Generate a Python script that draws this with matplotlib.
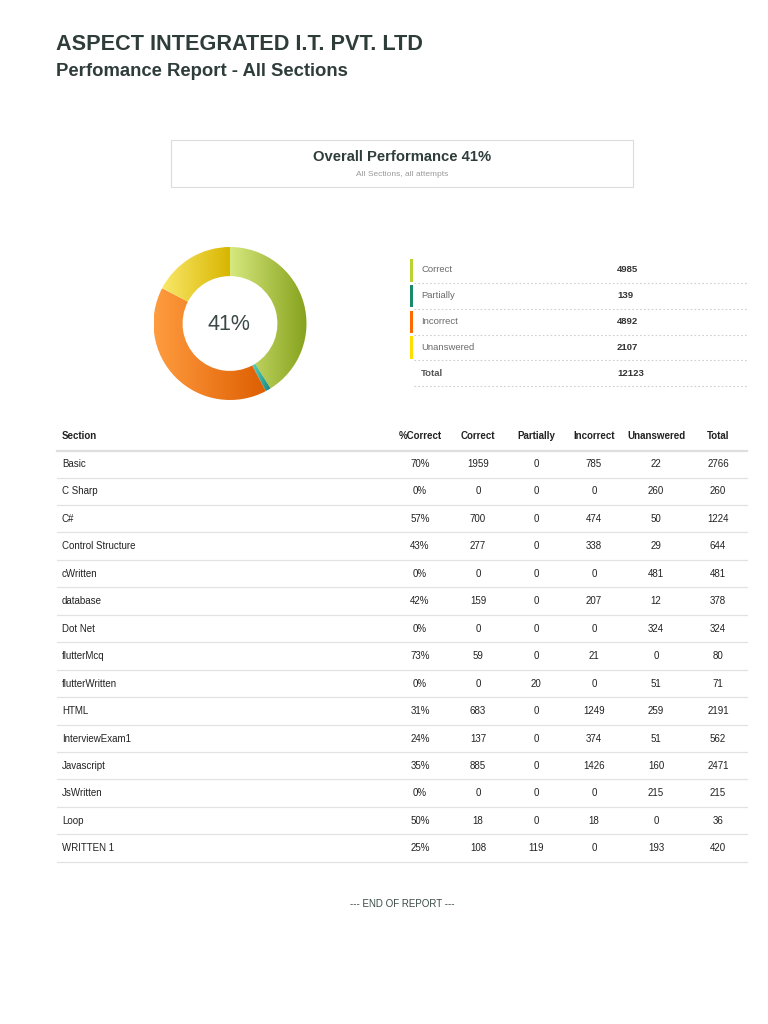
import numpy as np
import matplotlib.pyplot as plt
from matplotlib.colors import LinearSegmentedColormap

plt.rcParams["font.family"] = ["Liberation Sans", "DejaVu Sans"]

# ---- data ----
summary_labels = ["Correct", "Partially", "Incorrect", "Unanswered"]
summary_counts = [4985, 139, 4892, 2107]
summary_total = 12123
overall_pct = 41

sections = ["Basic", "C Sharp", "C#", "Control Structure", "cWritten", "database",
            "Dot Net", "flutterMcq", "flutterWritten", "HTML", "InterviewExam1",
            "Javascript", "JsWritten", "Loop", "WRITTEN 1"]
pct_correct = [70, 0, 57, 43, 0, 42, 0, 73, 0, 31, 24, 35, 0, 50, 25]
correct = [1959, 0, 700, 277, 0, 159, 0, 59, 0, 683, 137, 885, 0, 18, 108]
partially = [0, 0, 0, 0, 0, 0, 0, 0, 20, 0, 0, 0, 0, 0, 119]
incorrect = [785, 0, 474, 338, 0, 207, 0, 21, 0, 1249, 374, 1426, 0, 18, 0]
unanswered = [22, 260, 50, 29, 481, 12, 324, 0, 51, 259, 51, 160, 215, 0, 193]
total = [2766, 260, 1224, 644, 481, 378, 324, 80, 71, 2191, 562, 2471, 215, 36, 420]

# colours
DARK = "#2f3d3a"
bar_colors = ["#b8d432", "#1a8a6a", "#ff6a00", "#ffdd00"]
grad_colors = [("#d6e87e", "#86a21c"), ("#5fd0bc", "#17857a"),
               ("#ff9c40", "#dd5e00"), ("#f9e86a", "#d8b600")]

W, H = 768, 1024
fig = plt.figure(figsize=(W / 100, H / 100), dpi=100)
ax = fig.add_axes([0, 0, 1, 1])
ax.set_xlim(0, W)
ax.set_ylim(H, 0)
ax.axis("off")

# ---- header ----
ax.text(56, 45, "ASPECT INTEGRATED I.T. PVT. LTD", fontsize=15.6, fontweight="bold",
        color=DARK, va="center", ha="left")
ax.text(56, 72, "Perfomance Report - All Sections", fontsize=13.3, fontweight="bold",
        color=DARK, va="center", ha="left")

# ---- overall box ----
ax.add_patch(plt.Rectangle((171, 140), 462, 47, fill=False, edgecolor="#dcdcdc", linewidth=0.8))
ax.text(402, 157, f"Overall Performance {overall_pct}%", fontsize=10.6, fontweight="bold",
        color=DARK, ha="center", va="center")
ax.text(402, 174, "All Sections, all attempts", fontsize=6, color="#9a9a9a",
        ha="center", va="center")

# ---- donut ----
cx, cy, R = 230, 323.5, 76.5
box = 180
pax = fig.add_axes([(cx - box / 2) / W, 1 - (cy + box / 2) / H, box / W, box / H])
lim = box / 2 / R
wedges, _ = pax.pie(summary_counts, startangle=90, counterclock=False,
                    wedgeprops=dict(width=0.38, linewidth=0))
for wdg, (c0, c1) in zip(wedges, grad_colors):
    bb = wdg.get_path().get_extents()
    cmap = LinearSegmentedColormap.from_list("g", [c0, c1])
    grad = np.linspace(0, 1, 256).reshape(1, -1)
    im = pax.imshow(grad, cmap=cmap, extent=[bb.x0, bb.x1, bb.y0, bb.y1],
                    aspect="auto", interpolation="bilinear")
    im.set_clip_path(wdg)
    wdg.set_facecolor("none")
pax.set_xlim(-lim, lim)
pax.set_ylim(-lim, lim)
pax.set_aspect("equal")
pax.axis("off")
ax.text(cx - 1, cy + 1, f"{overall_pct}%", fontsize=15.5, color="#3a4846",
        ha="center", va="center")

# ---- legend ----
leg_y = 270
step = 25.8
for i, (lab, cnt) in enumerate(zip(summary_labels, summary_counts)):
    y = leg_y + i * step
    ax.add_patch(plt.Rectangle((409.5, y - 11), 3, 22.5, color=bar_colors[i], linewidth=0))
    ax.text(421, y, lab, fontsize=6.8, color="#6b6b6b", ha="left", va="center")
    ax.text(617, y, str(cnt), fontsize=6.8, color="#333333", fontweight="bold",
            ha="left", va="center")
    ax.plot([414, 747], [y + 13, y + 13], color="#cfcfcf", linewidth=0.8,
            linestyle=(0, (1.5, 2)))
y = leg_y + 4 * step
ax.text(421, y, "Total", fontsize=6.8, color="#555555", fontweight="bold", ha="left", va="center")
ax.text(617, y, str(summary_total), fontsize=6.8, color="#333333", fontweight="bold",
        ha="left", va="center")
ax.plot([414, 747], [y + 13, y + 13], color="#cfcfcf", linewidth=0.8, linestyle=(0, (1.5, 2)))

# ---- table ----
col_x = [420, 478, 536, 594, 656, 718]
headers = ["%Correct", "Correct", "Partially", "Incorrect", "Unanswered", "Total"]
hdr_y = 436
FS = 7
ax.text(62, hdr_y, "Section", fontsize=FS, fontweight="bold", color="#222222",
        ha="left", va="center")
for x, h in zip(col_x, headers):
    ax.text(x, hdr_y, h, fontsize=FS, fontweight="bold", color="#222222",
            ha="center", va="center")
ax.plot([57, 747], [451, 451], color="#dedede", linewidth=1.6)

row0, rstep = 464, 27.45
for i, name in enumerate(sections):
    y = row0 + i * rstep
    vals = [f"{pct_correct[i]}%", correct[i], partially[i], incorrect[i],
            unanswered[i], total[i]]
    ax.text(62, y, name, fontsize=FS, color="#222222", ha="left", va="center")
    for x, v in zip(col_x, vals):
        ax.text(x, y, str(v), fontsize=FS, color="#222222", ha="center", va="center")
    ax.plot([57, 747], [y + 13.5, y + 13.5], color="#e2e2e2", linewidth=0.9)

ax.text(402, 904, "--- END OF REPORT ---", fontsize=7, color="#3a4a46",
        ha="center", va="center")

fig.savefig("out.png", dpi=100, facecolor="white")
